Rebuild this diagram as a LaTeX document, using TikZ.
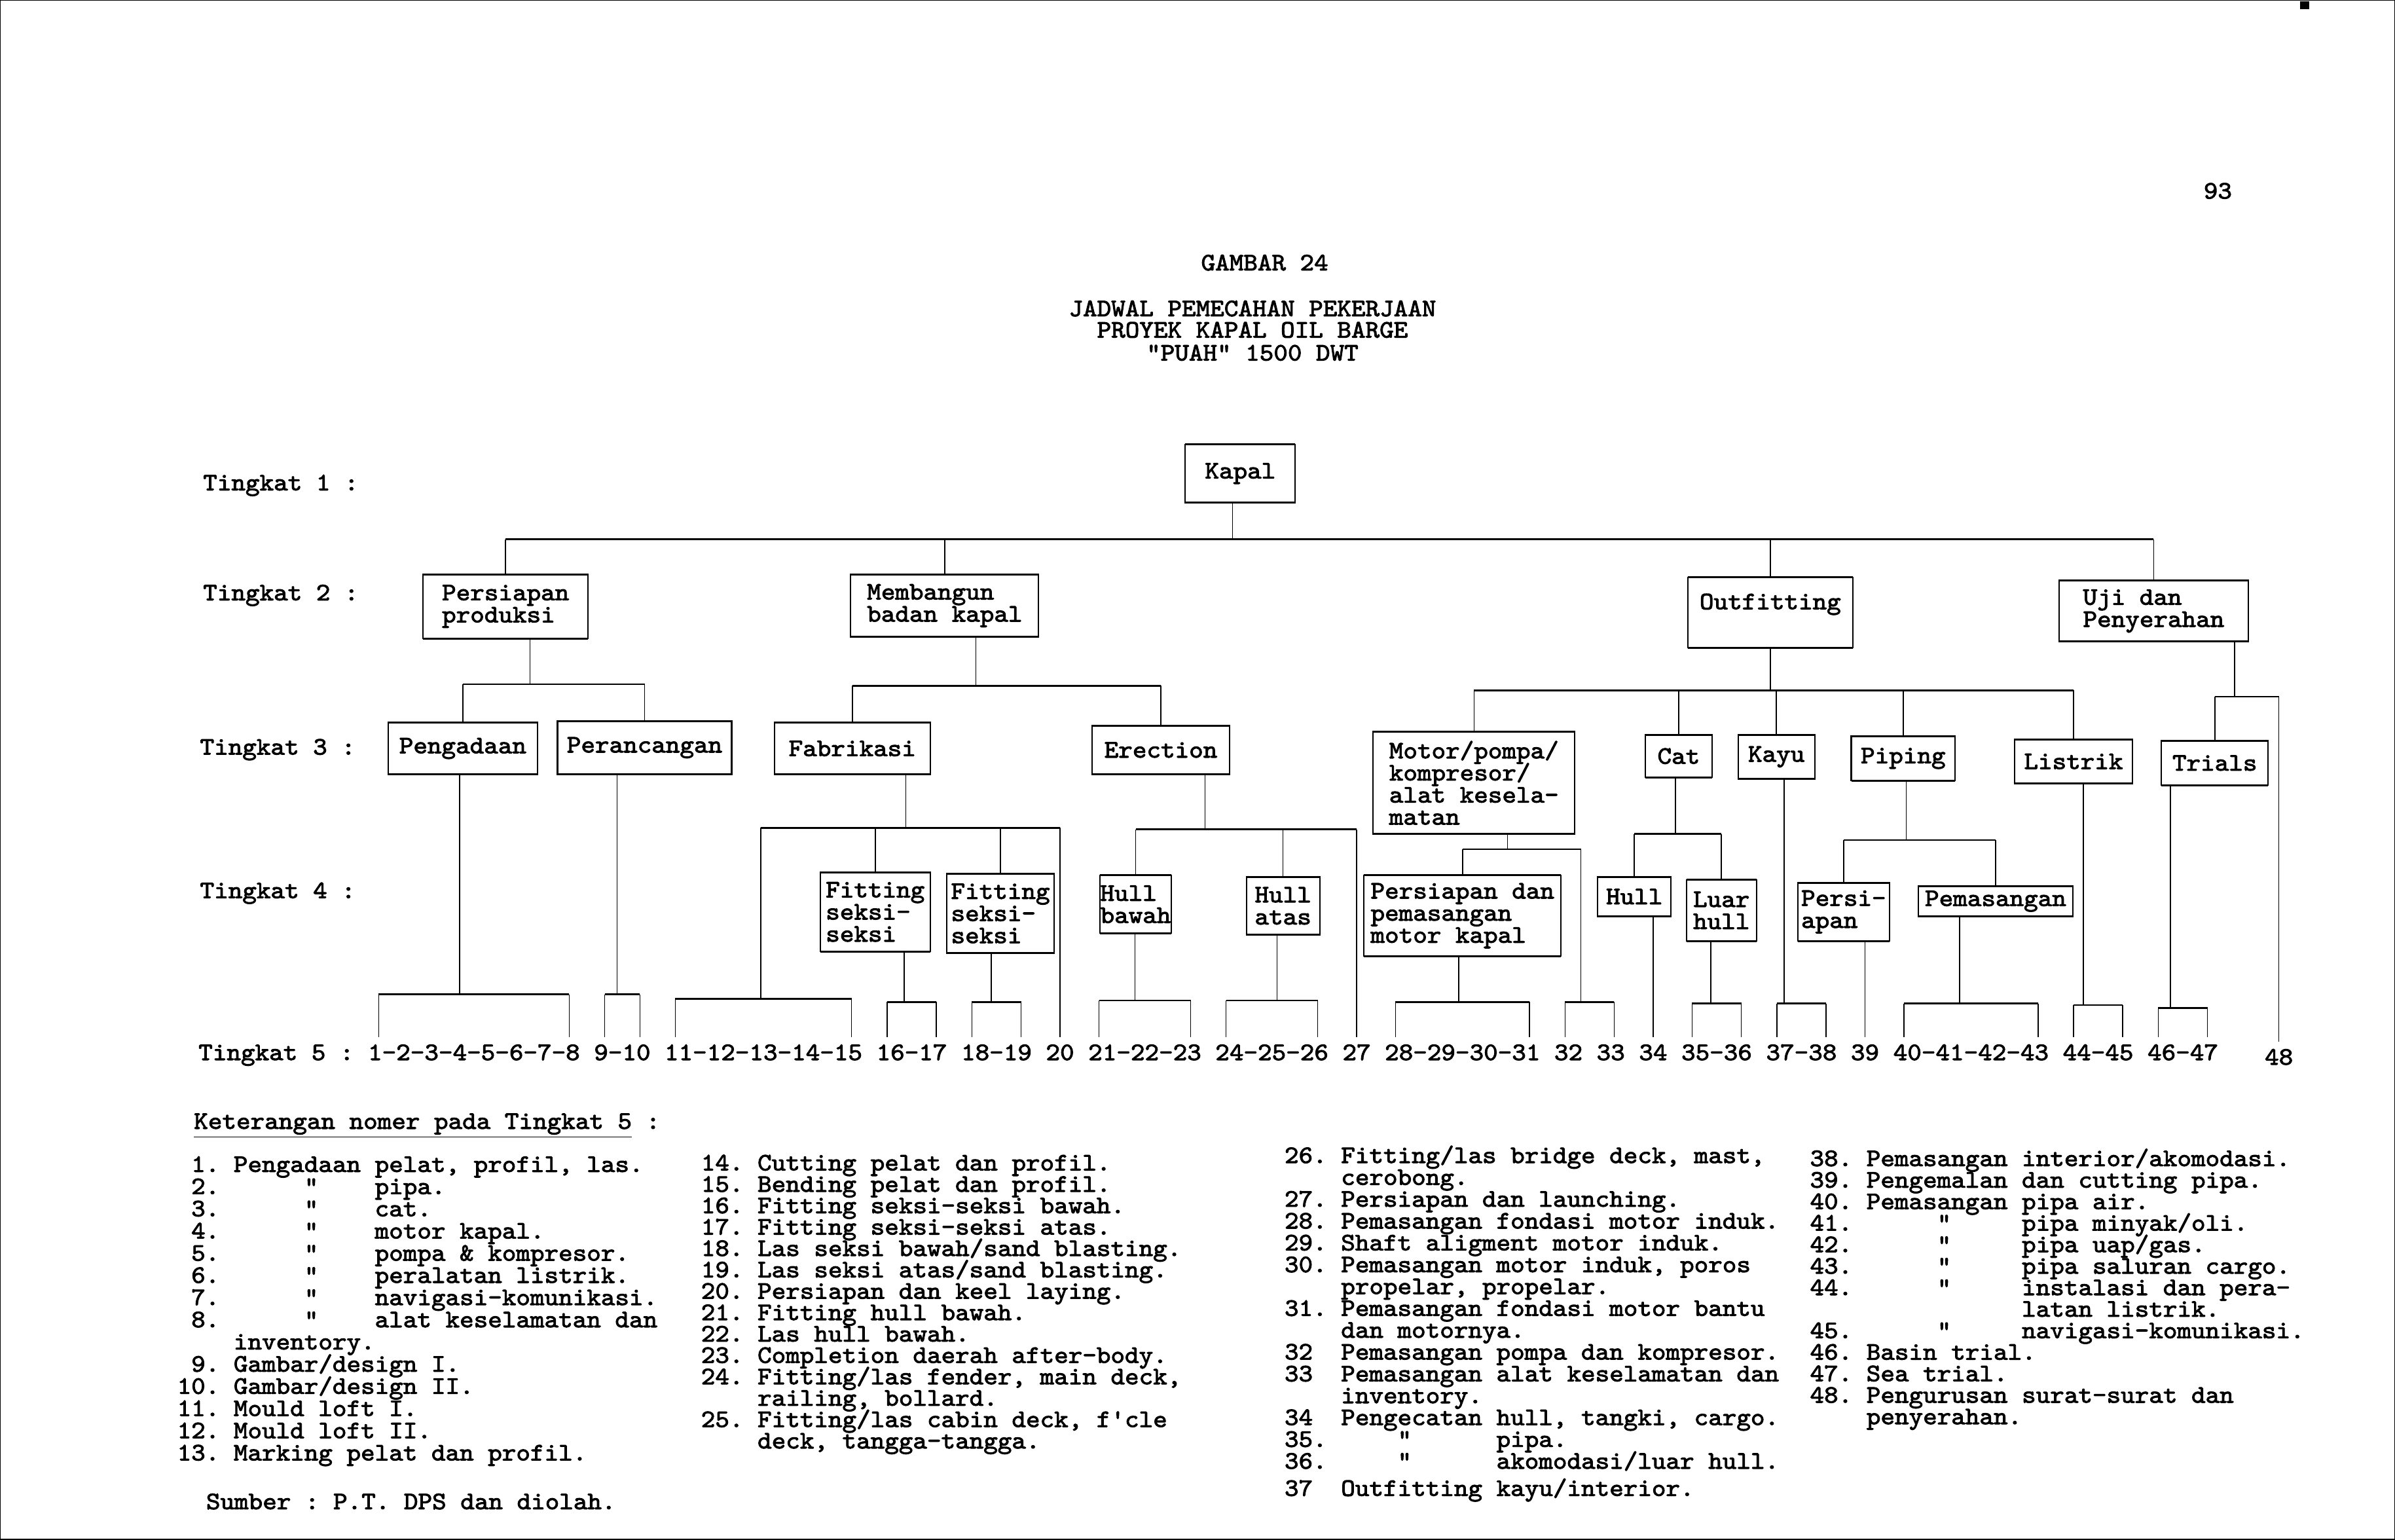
\documentclass[tikz,border=0pt]{standalone}
\usepackage{fontspec}
\setmainfont{lmmono10-regular.otf}[FakeStretch=1.074, FakeBold=2.5, Ligatures=TeXOff]

\tikzset{
  box/.style={draw, line width=0.75pt, inner sep=0pt, outer sep=0pt, align=left,
    append after command={(\tikzlastnode.north west) edge[line width=1.15pt] (\tikzlastnode.north east)
      (\tikzlastnode.south west) edge[line width=1.15pt] (\tikzlastnode.south east)}},
  wh/.style 2 args={minimum width=#1*0.03cm, minimum height=#2*0.03cm},
  stem/.style={line width=0.55pt},
  bus/.style={line width=0.95pt},
  txt/.style={inner sep=0pt, outer sep=0pt},
  num/.style={anchor=base, inner xsep=-0.21cm, inner ysep=0pt, outer sep=0pt, text height=0.45cm, text depth=0pt},
  legend/.style={txt, anchor=north west, align=left},
}

\begin{document}
\frenchspacing\lineskiplimit=-\maxdimen
\begin{tikzpicture}[x=0.03cm, y=-0.03cm, every node/.style={font=\fontsize{14pt}{12.35pt}\selectfont}]
\useasboundingbox (0,0) rectangle (1568,1008);
\draw[line width=1pt] (0,0) rectangle (1568,1008);
\fill (1506,1) rectangle (1512,6);

% heading
\node[txt, anchor=base] (page) at (1452,130) {93};
\node[txt, anchor=base] (fig) at (828,177) {GAMBAR 24};
\node[txt, anchor=base] (ttl1) at (820,207) {JADWAL PEMECAHAN PEKERJAAN};
\node[txt, anchor=base] (ttl2) at (820,221) {PROYEK KAPAL OIL BARGE};
\node[txt, anchor=base] (ttl3) at (820,236) {"PUAH" 1500 DWT};

% level labels
\node[txt, anchor=base west] (lv1) at (133,321) {Tingkat 1 :};
\node[txt, anchor=base west] (lv2) at (133,393) {Tingkat 2 :};
\node[txt, anchor=base west] (lv3) at (131,494) {Tingkat 3 :};
\node[txt, anchor=base west] (lv4) at (131,588) {Tingkat 4 :};
\node[txt, anchor=base west] (lv5) at (130,694) {Tingkat 5 :};

% Tingkat 1 and 2
\node[box, wh={72}{38}] (kapal) at (812,310) {Kapal};
\node[box, wh={108}{42}] (pp) at (331,397) {Persiapan\\produksi};
\node[box, wh={123}{41}] (mb) at (618.5,396.5) {Membangun\\badan kapal};
\node[box, wh={108}{46}] (of) at (1159,401) {Outfitting\\~};
\node[box, wh={124}{40}] (uji) at (1410,400) {Uji dan\\Penyerahan};
% Tingkat 3
\node[box, wh={98}{34}] (peng) at (303,490) {Pengadaan};
\node[box, wh={114}{35}] (peran) at (422,489.5) {Perancangan};
\node[box, wh={102}{34}] (fab) at (558,490) {Fabrikasi};
\node[box, wh={90}{32}] (ere) at (760,491) {Erection};
\node[box, wh={132}{67}] (mot) at (965,512.5) {Motor/pompa/\\kompresor/\\alat kesela-\\matan};
\node[box, wh={44}{28}] (cat) at (1099,495) {Cat};
\node[box, wh={50}{29}] (kayu) at (1163,495.5) {Kayu};
\node[box, wh={68}{29}] (pip) at (1246,496.5) {Piping};
\node[box, wh={77}{29}] (lis) at (1357.5,498.5) {Listrik};
\node[box, wh={70}{29}] (tri) at (1450,499.5) {Trials};
% Tingkat 4
\node[box, wh={72}{52}] (fit1) at (573,597) {Fitting\\seksi-\\seksi};
\node[box, wh={70}{52}] (fit2) at (655,598) {Fitting\\seksi-\\seksi};
\node[box, wh={47}{38}] (hb) at (743.5,592) {Hull\\bawah};
\node[box, wh={48}{38}] (ha) at (840,593) {Hull\\atas};
\node[box, wh={129}{53}] (pdp) at (957.5,599.5) {Persiapan dan\\pemasangan\\motor kapal};
\node[box, wh={48}{26}] (hul) at (1070,587) {Hull};
\node[box, wh={46}{40}] (luar) at (1127,596) {Luar\\hull};
\node[box, wh={60}{38}] (persi) at (1207,597) {Persi-\\apan};
\node[box, wh={101}{20}] (pem) at (1306.5,590) {Pemasangan};

% Tingkat 5 numbers
\foreach \n/\x/\t in {g1/310.3/1-2-3-4-5-6-7-8, g2/407.4/9-10, g3/499.8/11-12-13-14-15,
    g4/596.9/16-17, g5/652.4/18-19, n20/694/20, g6/749.5/21-22-23, g7/832.7/24-25-26,
    n27/888.2/27, g8/957.5/28-29-30-31, g9/1040.7/32 33, n34/1082.3/34, g10/1123.9/35-36,
    g11/1179.4/37-38, n39/1221/39, g12/1290.4/40-41-42-43, g13/1373.6/44-45, g14/1429.1/46-47}
  \node[num] (\n) at (\x,694) {\t};
\node[num] (n48) at (1492,697) {48};

% bus junctions
\coordinate (j1) at (807,353);
\coordinate (j2) at (347,448);
\coordinate (j3) at (639,449);
\coordinate (j4) at (1159,452);
\coordinate (j5) at (1463,456);
\coordinate (j6) at (593,542);
\coordinate (j7) at (789,543);
\coordinate (j8) at (987,556);
\coordinate (j9) at (1097,546);
\coordinate (j10) at (1248,550);
\foreach \k/\x/\y in {k1/301/651, k2/404/651, k3/498/654, k4/592/656, k5/649/656, k6/743/655,
    k7/836/655, k8/955/656, k9/1035/656, k10/1120/657, k11/1168/657, k12/1283/657,
    k13/1364/658, k14/1421/660}
  \coordinate (\k) at (\x,\y);

% box to box
\foreach \p/\j/\bl/\br/\kids in {
    kapal/j1/pp.north/uji.north/{pp,mb,of,uji},
    pp/j2/peng.north/peran.north/{peng,peran},
    mb/j3/fab.north/ere.north/{fab,ere},
    of/j4/mot.north/lis.north/{mot,cat,kayu,pip,lis},
    uji/j5/tri.north/n48.north/{tri,n48},
    fab/j6/k3/n20.north/{fit1,fit2,n20},
    ere/j7/hb.north/n27.north/{hb,ha,n27},
    mot/j8/pdp.north/k9/{pdp},
    cat/j9/hul.north/luar.north/{hul,luar},
    pip/j10/persi.north/pem.north/{persi,pem}}
{
  \draw[stem] (\j |- \p.south) -- (\j);
  \draw[bus] (\bl |- \j) -- (\br |- \j);
  \foreach \c in \kids \draw[stem] (\c.north |- \j) -- (\c.north);
}

% brackets over Tingkat 5
\foreach \g/\k/\ps in {g1/k1/peng.south, g2/k2/peran.south, g3/k3/j6, g4/k4/fit1.south,
    g5/k5/fit2.south, g6/k6/hb.south, g7/k7/ha.south, g8/k8/pdp.south, g9/k9/j8,
    g10/k10/luar.south, g11/k11/kayu.south, g12/k12/pem.south, g13/k13/lis.south, g14/k14/tri.south}
{
  \draw[stem] (\k |- \ps) -- (\k);
  \draw[bus] (\g.north west |- \k) -- (\g.north east |- \k);
  \draw[stem] (\g.north west |- \k) -- (\g.north west) (\g.north east |- \k) -- (\g.north east);
}
\draw[stem] (n34.north |- hul.south) -- (n34.north);
\draw[stem] (n39.north |- persi.south) -- (n39.north);

% legend
\node[txt, anchor=base west] (ket) at (127,739) {\underline{Keterangan nomer pada Tingkat 5} :};
\node[legend, font=\fontsize{14pt}{12.4pt}\selectfont] (leg1) at (116,757) {%
~1.~Pengadaan pelat, profil, las.\\
~2.~~~~~~"~~~~pipa.\\
~3.~~~~~~"~~~~cat.\\
~4.~~~~~~"~~~~motor kapal.\\
~5.~~~~~~"~~~~pompa \& kompresor.\\
~6.~~~~~~"~~~~peralatan listrik.\\
~7.~~~~~~"~~~~navigasi-komunikasi.\\
~8.~~~~~~"~~~~alat keselamatan dan\\
~~~~inventory.\\
~9.~Gambar/design I.\\
10.~Gambar/design II.\\
11.~Mould loft I.\\
12.~Mould loft II.\\
13.~Marking pelat dan profil.};
\node[legend, font=\fontsize{14pt}{11.95pt}\selectfont] (leg2) at (459,756) {%
14. Cutting pelat dan profil.\\
15. Bending pelat dan profil.\\
16. Fitting seksi-seksi bawah.\\
17. Fitting seksi-seksi atas.\\
18. Las seksi bawah/sand blasting.\\
19. Las seksi atas/sand blasting.\\
20. Persiapan dan keel laying.\\
21. Fitting hull bawah.\\
22. Las hull bawah.\\
23. Completion daerah after-body.\\
24. Fitting/las fender, main deck,\\
~~~~railing, bollard.\\
25. Fitting/las cabin deck, f'cle\\
~~~~deck, tangga-tangga.};
\node[legend, font=\fontsize{14pt}{12.2pt}\selectfont] (leg3) at (841,750) {%
26. Fitting/las bridge deck, mast,\\
~~~~cerobong.\\
27. Persiapan dan launching.\\
28. Pemasangan fondasi motor induk.\\
29. Shaft aligment motor induk.\\
30. Pemasangan motor induk, poros\\
~~~~propelar, propelar.\\
31. Pemasangan fondasi motor bantu\\
~~~~dan motornya.\\
32~~Pemasangan pompa dan kompresor.\\
33~~Pemasangan alat keselamatan dan\\
~~~~inventory.\\
34~~Pengecatan hull, tangki, cargo.\\
35.~~~~~"~~~~~~pipa.\\
36.~~~~~"~~~~~~akomodasi/luar hull.\\[3pt]
37~~Outfitting kayu/interior.};
\node[legend, font=\fontsize{14pt}{12.02pt}\selectfont] (leg4) at (1185,752) {%
38. Pemasangan interior/akomodasi.\\
39. Pengemalan dan cutting pipa.\\
40. Pemasangan pipa air.\\
41.~~~~~~"~~~~~pipa minyak/oli.\\
42.~~~~~~"~~~~~pipa uap/gas.\\
43.~~~~~~"~~~~~pipa saluran cargo.\\
44.~~~~~~"~~~~~instalasi dan pera-\\
~~~~~~~~~~~~~~~latan listrik.\\
45.~~~~~~"~~~~~navigasi-komunikasi.\\
46. Basin trial.\\
47. Sea trial.\\
48. Pengurusan surat-surat dan\\
~~~~penyerahan.};
\node[txt, anchor=base west] (src) at (135,988) {Sumber : P.T. DPS dan diolah.};
\end{tikzpicture}
\end{document}
